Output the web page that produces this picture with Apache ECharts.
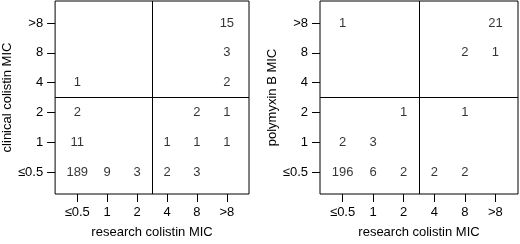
<!DOCTYPE html>
<html>
<head>
<meta charset="utf-8">
<script src="https://cdn.jsdelivr.net/npm/echarts@6/dist/echarts.min.js"></script>
<style>
  html, body { margin: 0; padding: 0; background: #fff; }
  #main { width: 520px; height: 244px; }
</style>
</head>
<body>
<div id="main"></div>
<script>
// MIC categories, same on both axes of each panel
var micLevels = ["≤0.5", "1", "2", "4", "8", ">8"];

// left panel: [research index, clinical index, count]
var clinicalCounts = [
  [1, 1, 189], [2, 1, 9], [3, 1, 3], [4, 1, 2], [5, 1, 3],
  [1, 2, 11], [4, 2, 1], [5, 2, 1], [6, 2, 1],
  [1, 3, 2], [5, 3, 2], [6, 3, 1],
  [1, 4, 1], [6, 4, 2],
  [6, 5, 3],
  [6, 6, 15]
];

// right panel: [research index, polymyxin B index, count]
var polymyxinCounts = [
  [1, 1, 196], [2, 1, 6], [3, 1, 2], [4, 1, 2], [5, 1, 2],
  [1, 2, 2], [2, 2, 3],
  [3, 3, 1], [5, 3, 1],
  [5, 5, 2], [6, 5, 1],
  [1, 6, 1], [6, 6, 21]
];

var xTitle = "research colistin MIC";
var yTitles = ["clinical colistin MIC", "polymyxin B MIC"];
var yNameGaps = [36, 31];

var chartDom = document.getElementById("main");
var myChart = echarts.init(chartDom);

var font = "'Liberation Sans', Arial, sans-serif";
var positions = [1, 2, 3, 4, 5, 6];

function xAxisFor(i) {
  return {
    type: "value", gridIndex: i, min: 0.26, max: 6.74,
    name: xTitle, nameLocation: "middle", nameGap: 32,
    nameTextStyle: { color: "#000", fontSize: 13, fontFamily: font },
    axisLine: { show: false },
    splitLine: { show: false },
    axisTick: { show: true, length: 8, customValues: positions, lineStyle: { color: "#000" } },
    axisLabel: {
      customValues: positions, margin: 12, color: "#000", fontSize: 13, fontFamily: font,
      formatter: function (v) { return micLevels[Math.round(v) - 1]; }
    }
  };
}

function yAxisFor(i) {
  return {
    type: "value", gridIndex: i, min: 0.26, max: 6.74,
    name: yTitles[i], nameLocation: "middle", nameGap: yNameGaps[i],
    nameTextStyle: { color: "#000", fontSize: 13, fontFamily: font },
    axisLine: { show: false },
    splitLine: { show: false },
    axisTick: { show: true, length: 8, customValues: positions, lineStyle: { color: "#000" } },
    axisLabel: {
      customValues: positions, margin: 12, color: "#000", fontSize: 13, fontFamily: font,
      formatter: function (v) { return micLevels[Math.round(v) - 1]; }
    }
  };
}

function seriesFor(i, data) {
  return {
    type: "scatter", xAxisIndex: i, yAxisIndex: i,
    data: data, symbolSize: 1, silent: true,
    itemStyle: { color: "rgba(0,0,0,0)" },
    label: {
      show: true, position: "inside", color: "#000", fontSize: 13, fontFamily: font,
      formatter: function (p) { return p.value[2]; }
    },
    markLine: {
      silent: true, symbol: "none",
      label: { show: false },
      lineStyle: { color: "#000", width: 1, type: "solid" },
      data: [{ xAxis: 3.5 }, { yAxis: 3.5 }]
    }
  };
}

var option = {
  animation: false,
  grid: [
    { left: 50, top: 1, width: 199, height: 199, show: true, borderColor: "#000", borderWidth: 1 },
    { left: 320, top: 1, width: 198, height: 199, show: true, borderColor: "#000", borderWidth: 1 }
  ],
  xAxis: [xAxisFor(0), xAxisFor(1)],
  yAxis: [yAxisFor(0), yAxisFor(1)],
  series: [seriesFor(0, clinicalCounts), seriesFor(1, polymyxinCounts)]
};

option && myChart.setOption(option);
</script>
</body>
</html>
